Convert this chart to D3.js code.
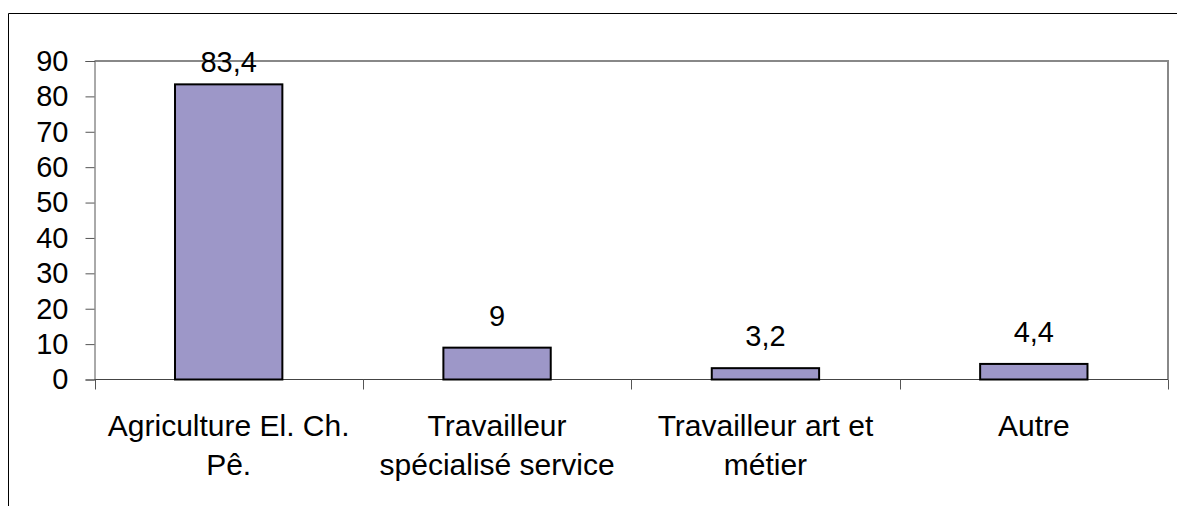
<!DOCTYPE html>
<html>
<head>
<meta charset="utf-8">
<script src="https://cdn.jsdelivr.net/npm/d3@7"></script>
<style>
  body { margin: 0; background: #fff; }
  text { font-family: "Liberation Sans", Arial, sans-serif; fill: #000; }
</style>
</head>
<body>
<div id="chart"></div>
<script>
// data
let categories = ["Agriculture El. Ch. Pê.", "Travailleur spécialisé service", "Travailleur art et métier", "Autre"];
let labelLines = [["Agriculture El. Ch.", "Pê."], ["Travailleur", "spécialisé service"], ["Travailleur art et", "métier"], ["Autre"]];
let values = [83.4, 9, 3.2, 4.4];
let valueLabels = ["83,4", "9", "3,2", "4,4"];
let yTicks = [0, 10, 20, 30, 40, 50, 60, 70, 80, 90];

let width = 1177, height = 506;
let plot = {left: 94.5, right: 1168, top: 61, bottom: 379.5};
let fontSize = 29;
let catFontSize = 30;

let svg = d3.select("#chart").append("svg")
  .attr("width", width)
  .attr("height", height);

// outer chart frame (only top and left edges are in view)
svg.append("path")
  .attr("d", "M8.5,506 V13.5 H1177")
  .attr("fill", "none")
  .attr("stroke", "#000")
  .attr("stroke-width", 1);

let xScale = d3.scaleBand().domain(categories).range([plot.left, plot.right]).paddingInner(0.6).paddingOuter(0.3);
let yScale = d3.scaleLinear().domain([0, 90]).range([plot.bottom, plot.top]);

// plot area border, grey top and right
svg.append("path")
  .attr("d", "M" + plot.left + "," + plot.top + " H" + plot.right + " V" + plot.bottom)
  .attr("fill", "none")
  .attr("stroke", "#888")
  .attr("stroke-width", 2);

// y axis
let yAxis = d3.axisLeft(yScale).tickValues(yTicks).tickSize(9).tickPadding(17);
let gy = svg.append("g").attr("transform", "translate(" + plot.left + ",0)").call(yAxis);
gy.select(".domain").attr("stroke", "#555");
gy.selectAll(".tick line").attr("stroke", "#555");
gy.selectAll("text").style("font-size", fontSize + "px").attr("font-family", null);

// x axis: ticks sit between categories
let bandStep = (plot.right - plot.left) / categories.length;
let edges = d3.range(categories.length + 1).map(i => plot.left + i * bandStep);
svg.append("line")
  .attr("x1", plot.left).attr("x2", plot.right)
  .attr("y1", plot.bottom).attr("y2", plot.bottom)
  .attr("stroke", "#444").attr("stroke-width", 1);
svg.append("g").selectAll("line")
  .data(edges)
  .enter()
  .append("line")
  .attr("x1", d => Math.round(d) + 0.5).attr("x2", d => Math.round(d) + 0.5)
  .attr("y1", plot.bottom).attr("y2", plot.bottom + 10)
  .attr("stroke", "#555");

// category labels
svg.append("g").selectAll("text")
  .data(categories)
  .enter()
  .append("text")
  .attr("text-anchor", "middle")
  .style("font-size", catFontSize + "px")
  .each(function(d, i) {
    let t = d3.select(this);
    labelLines[i].forEach((line, j) => {
      t.append("tspan")
        .attr("x", xScale(d) + xScale.bandwidth() / 2)
        .attr("y", 436 + j * 39)
        .text(line);
    });
  });

// bars
svg.append("g").selectAll("rect")
  .data(values)
  .enter()
  .append("rect")
  .attr("x", (d, i) => xScale(categories[i]))
  .attr("y", d => yScale(d))
  .attr("width", xScale.bandwidth())
  .attr("height", d => yScale(0) - yScale(d))
  .attr("fill", "#9d97c8")
  .attr("stroke", "#000")
  .attr("stroke-width", 2);

// value labels
svg.append("g").selectAll("text")
  .data(values)
  .enter()
  .append("text")
  .attr("text-anchor", "middle")
  .style("font-size", fontSize + "px")
  .attr("x", (d, i) => xScale(categories[i]) + xScale.bandwidth() / 2)
  .attr("y", d => Math.max(yScale(d) - 22, 72))
  .text((d, i) => valueLabels[i]);
</script>
</body>
</html>
